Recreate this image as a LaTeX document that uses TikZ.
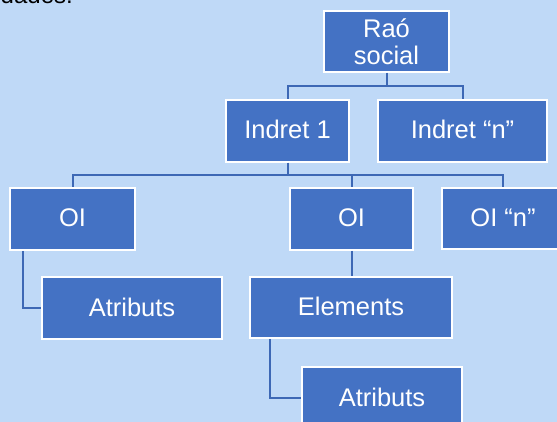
\documentclass[tikz,border=0pt]{standalone}
\usepackage{fontspec}
\setmainfont{Liberation Sans}
\definecolor{bgblue}{HTML}{BFD9F7}
\definecolor{boxblue}{HTML}{4472C4}
\definecolor{lineblue}{HTML}{3D68B5}
\begin{document}
\begin{tikzpicture}[x=1pt,y=-1pt,
  box/.style={draw=white, line width=2pt, fill=boxblue, text=white, inner sep=0pt,
    font=\fontsize{25.5}{28}\selectfont, text height=16pt, text depth=0pt},
  conn/.style={draw=lineblue, line width=2pt}]
\useasboundingbox (0,0) rectangle (557,422);
\clip (0,0) rectangle (557,422);
\fill[bgblue] (0,0) rectangle (557,422);
\node[anchor=base east, inner sep=0pt, font=\fontsize{24}{28}\selectfont] (top) at (73,4) {udades.};
% boxes
\node[box, minimum width=125pt, minimum height=61pt, align=center, text height=, text depth=] (rao) at (386.5,41.5) {Raó\\[-1pt]social};
\node[box, minimum width=123pt, minimum height=62pt] (in1) at (287.5,131) {Indret 1};
\node[box, minimum width=169pt, minimum height=62pt] (inn) at (462.5,131) {Indret “n”};
\node[box, minimum width=125pt, minimum height=62pt] (oi1) at (72.5,219) {OI};
\node[box, minimum width=123pt, minimum height=62pt] (oi2) at (351.5,219) {OI};
\node[box, minimum width=123pt, minimum height=61pt] (oin) at (503,218.5) {OI “n”};
\node[box, minimum width=180pt, minimum height=62pt] (at1) at (132,308) {Atributs};
\node[box, minimum width=202pt, minimum height=61pt] (el) at (351,307.5) {Elements};
\node[box, minimum width=160pt, minimum height=62pt] (at2) at (382,398) {Atributs};
% connectors
\draw[conn] (rao.south) -- ++(0,-13pt) -| (in1.north);
\draw[conn] (rao.south) -- ++(0,-13pt) -| (inn.north);
\draw[conn] (in1.south) -- ++(0,-12pt) -| (oi1.north);
\draw[conn] (in1.south) -- ++(0,-12pt) -| (oi2.north);
\draw[conn] (in1.south) -- ++(0,-12pt) -| (oin.north);
\draw[conn] ([xshift=14pt]oi1.south west) |- (at1.west);
\draw[conn] (oi2.south) -- (oi2.south |- el.north);
\draw[conn] ([xshift=21pt]el.south west) |- (at2.west);
\end{tikzpicture}
\end{document}
